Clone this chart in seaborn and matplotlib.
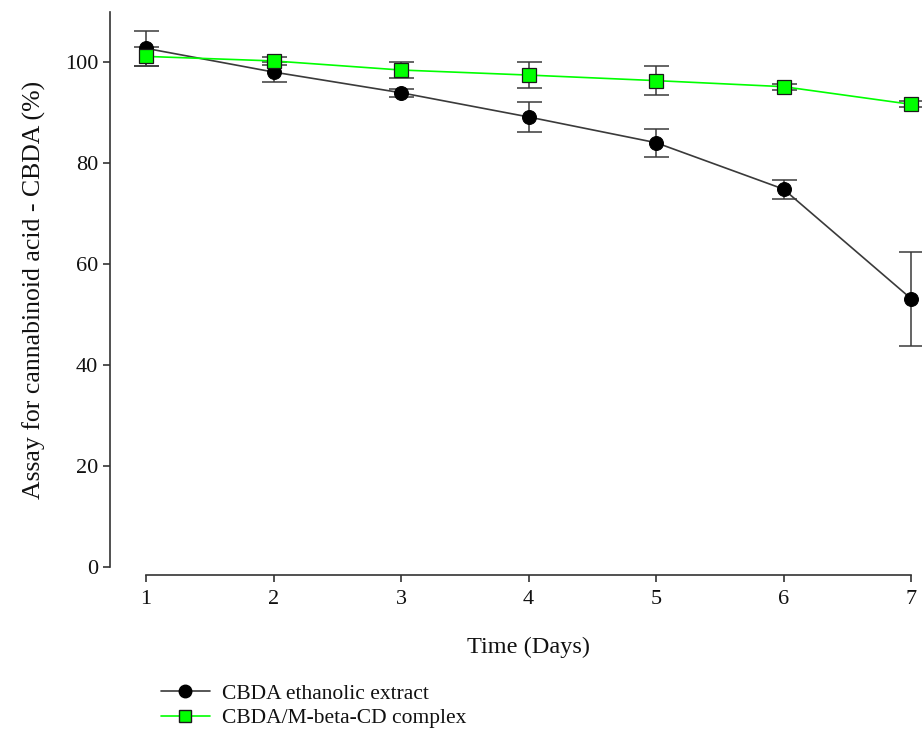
import matplotlib
matplotlib.use("Agg")
import matplotlib.pyplot as plt
import seaborn as sns
import pandas as pd
from matplotlib.lines import Line2D

days = [1, 2, 3, 4, 5, 6, 7]
extract_mean = [102.8, 98.1, 94.0, 89.2, 84.1, 74.9, 53.2]
extract_err = [3.5, 1.9, 0.8, 3.0, 2.8, 1.9, 9.3]
complex_mean = [101.2, 100.3, 98.5, 97.5, 96.4, 95.2, 91.7]
complex_err = [1.9, 0.8, 1.6, 2.6, 2.8, 0.6, 0.6]
series_names = ["CBDA ethanolic extract", "CBDA/M-beta-CD complex"]
y_ticks = [0, 20, 40, 60, 80, 100]

sns.set_theme(style="ticks")
plt.rcParams["font.family"] = ["Liberation Serif", "DejaVu Serif"]

df = pd.DataFrame({
    "day": days * 2,
    "value": extract_mean + complex_mean,
    "series": [series_names[0]] * len(days) + [series_names[1]] * len(days),
})

fig = plt.figure(figsize=(9.22, 7.31), dpi=100)
W, H = 922, 731
PX = 0.72  # points per pixel at 100 dpi
ax = fig.add_axes([146 / W, 1 - 567 / H, (911 - 146) / W, (567 - 12) / H])

err_color = "#3a3a3a"
for mean, err in [(extract_mean, extract_err), (complex_mean, complex_err)]:
    ax.errorbar(days, mean, yerr=err, fmt="none", ecolor=err_color,
                elinewidth=1.1, capsize=9, capthick=1.1, zorder=2, clip_on=False)

palette = {series_names[0]: "#3a3a3a", series_names[1]: "#00ff00"}
sns.lineplot(data=df, x="day", y="value", hue="series", style="series",
             palette=palette, markers={series_names[0]: "o", series_names[1]: "s"},
             dashes=False, ax=ax, legend=False, linewidth=1.2, markersize=10,
             zorder=3, clip_on=False)
for ln in ax.get_lines():
    ln.set_clip_on(False)
    if ln.get_marker() == "o":
        ln.set_markerfacecolor("black")
        ln.set_markeredgecolor("black")
    elif ln.get_marker() == "s":
        ln.set_markerfacecolor("#00ff00")
        ln.set_markeredgecolor("#1a1a1a")
        ln.set_markeredgewidth(0.9)

ax.set_xlim(1, 7)
ax.set_ylim(0, 110)
ax.set_xticks(days)
ax.set_yticks(y_ticks)
ax.tick_params(axis="both", labelsize=16, length=7 * PX, width=1.2, color="#333333",
               direction="out", labelcolor="#111111")
ax.tick_params(axis="y", pad=5 * PX)
ax.tick_params(axis="x", pad=8 * PX)
for s in ["top", "right"]:
    ax.spines[s].set_visible(False)
ax.spines["left"].set_position(("outward", 36 * PX))
ax.spines["bottom"].set_position(("outward", 8 * PX))
for s in ["left", "bottom"]:
    ax.spines[s].set_linewidth(1.2)
    ax.spines[s].set_color("#333333")

ax.set_xlabel("Time (Days)", fontsize=17.5, labelpad=28 * PX, color="#111111")
ax.set_ylabel("Assay for cannabinoid acid - CBDA (%)", fontsize=18.5,
              labelpad=19 * PX, color="#111111")

handles = [
    Line2D([], [], color="#3a3a3a", marker="o", markersize=9, markerfacecolor="black",
           markeredgecolor="black", linewidth=1.2),
    Line2D([], [], color="#00ff00", marker="s", markersize=9, markerfacecolor="#00ff00",
           markeredgecolor="#1a1a1a", linewidth=1.2),
]
fig.legend(handles, series_names, loc="upper left", bbox_to_anchor=(152 / W, 1 - 675 / H),
           frameon=False, fontsize=15.5, handlelength=2.3, handletextpad=0.55,
           labelspacing=0.2, borderaxespad=0, labelcolor="#111111")

fig.savefig("out.png", dpi=100)
